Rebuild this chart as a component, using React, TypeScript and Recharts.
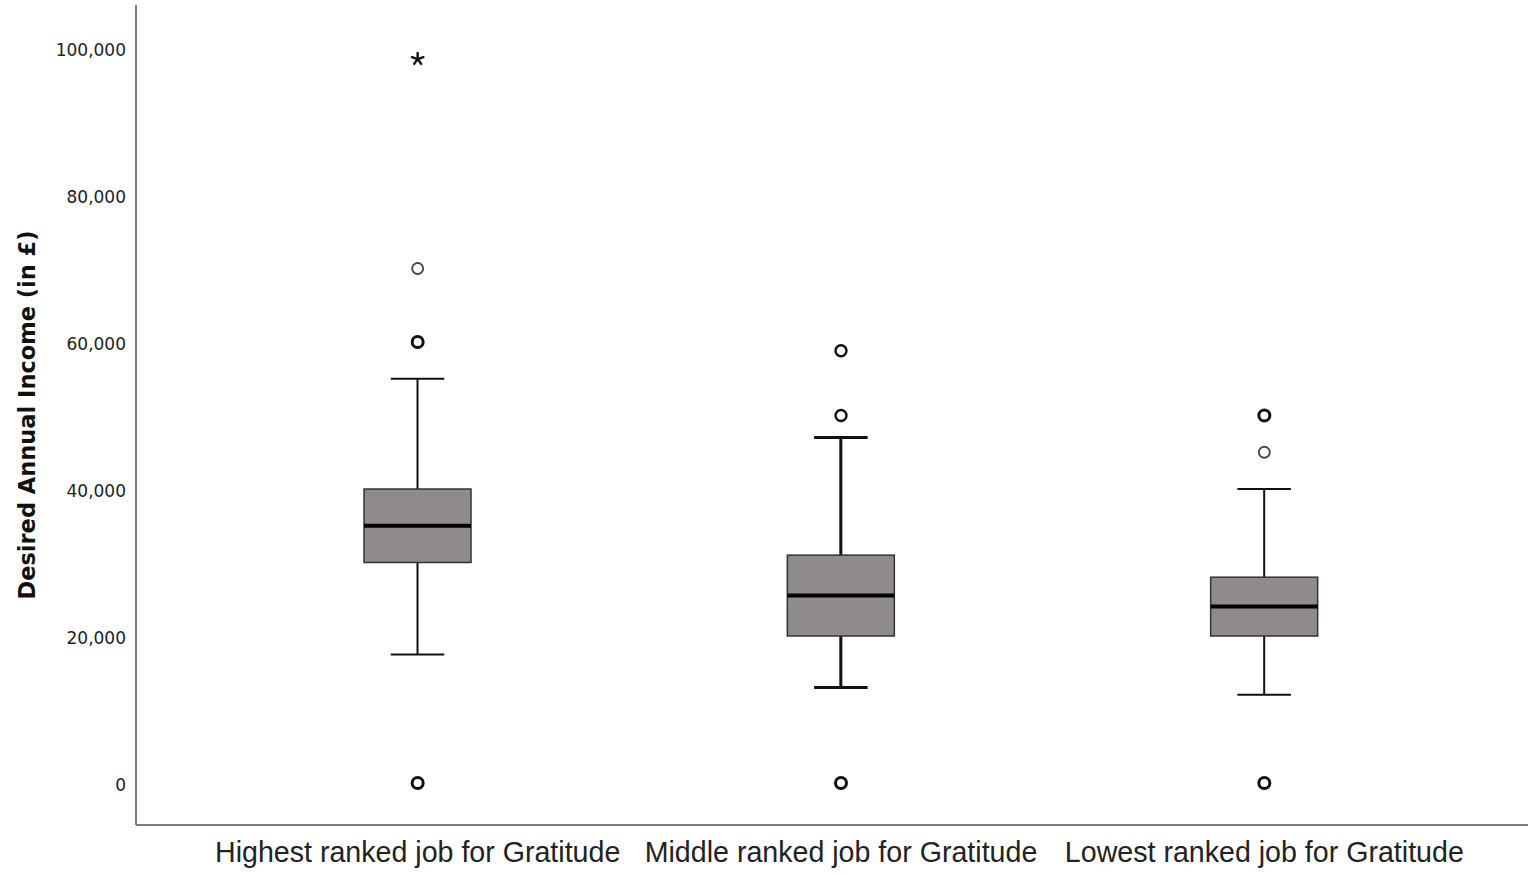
import React from "react";
import {
  ComposedChart, Bar, Scatter, XAxis, YAxis,
} from "recharts";

// Groups (x categories)
const groups = [
  "Highest ranked job for Gratitude",
  "Middle ranked job for Gratitude",
  "Lowest ranked job for Gratitude",
];

// Five-number summaries
const whiskerLow = [17500, 13000, 12000];
const q1 = [30000, 20000, 20000];
const median = [35000, 25500, 24000];
const q3 = [40000, 31000, 28000];
const whiskerHigh = [55000, 47000, 40000];

// Outliers: group index, value, kind ("bold" = repeated value, "extreme" = star)
const outlierGroup = [0, 0, 0, 0, 1, 1, 1, 2, 2, 2];
const outlierValue = [98500, 70000, 60000, 0, 58800, 50000, 0, 50000, 45000, 0];
const outlierKind = ["extreme", "thin", "bold", "bold", "normal", "normal", "bold", "bold", "thin", "bold"];

const yTicks = [0, 20000, 40000, 60000, 80000, 100000];

const boxData = groups.map((name, i) => ({
  name,
  box: [q1[i], q3[i]],
  lo: whiskerLow[i],
  med: median[i],
  q1: q1[i],
  q3: q3[i],
  hi: whiskerHigh[i],
  heavy: i === 1,
}));

const outlierData = outlierValue.map((v, i) => ({
  name: groups[outlierGroup[i]],
  value: v,
  kind: outlierKind[i],
}));

function BoxShape(props: any) {
  const { x, y, width, height, payload } = props;
  const toY = (v: number) => y + ((payload.q3 - v) * height) / (payload.q3 - payload.q1);
  const cx = x + width / 2;
  const capHalf = width / 4;
  const sw = payload.heavy ? 3 : 2;
  return (
    <g>
      <line x1={cx} x2={cx} y1={toY(payload.hi)} y2={y} stroke="#111" strokeWidth={sw} />
      <line x1={cx} x2={cx} y1={y + height} y2={toY(payload.lo)} stroke="#111" strokeWidth={sw} />
      <line x1={cx - capHalf} x2={cx + capHalf} y1={toY(payload.hi)} y2={toY(payload.hi)} stroke="#111" strokeWidth={sw} />
      <line x1={cx - capHalf} x2={cx + capHalf} y1={toY(payload.lo)} y2={toY(payload.lo)} stroke="#111" strokeWidth={sw} />
      <rect x={x} y={y} width={width} height={height} fill="#8f8b8b" stroke="#333" strokeWidth={1.5} />
      <line x1={x} x2={x + width} y1={toY(payload.med)} y2={toY(payload.med)} stroke="#000" strokeWidth={4} />
    </g>
  );
}

function OutlierShape(props: any) {
  const { cx, cy, payload } = props;
  if (payload.kind === "extreme") {
    // five-armed asterisk
    const arms = [0, 72, 144, 216, 288].map((deg) => {
      const a = ((deg - 90) * Math.PI) / 180;
      return (
        <line key={deg} x1={cx} y1={cy} x2={cx + 6 * Math.cos(a)} y2={cy + 6 * Math.sin(a)}
          stroke="#111" strokeWidth={2.4} strokeLinecap="round" />
      );
    });
    return <g>{arms}</g>;
  }
  const sw = payload.kind === "bold" ? 3 : payload.kind === "thin" ? 1.8 : 2.4;
  const col = payload.kind === "thin" ? "#444" : "#111";
  return <circle cx={cx} cy={cy} r={5.5} fill="#fff" stroke={col} strokeWidth={sw} />;
}

export default function App() {
  return (
    <div style={{ position: "absolute", left: 0, top: 0, background: "#fff" }}>
      <ComposedChart
        width={1528}
        height={875}
        data={boxData}
        margin={{ top: 5, right: 0, bottom: 0, left: 0 }}
      >
        <XAxis
          dataKey="name"
          type="category"
          allowDuplicatedCategory={false}
          height={50}
          padding={{ left: 70, right: 52 }}
          axisLine={{ stroke: "#555", strokeWidth: 1.5 }}
          tickLine={false}
          tickSize={0}
          tickMargin={17}
          interval={0}
          tick={{ fontSize: 28.6, fill: "#222", fontFamily: "Liberation Sans" }}
        />
        <YAxis
          type="number"
          domain={[-5714, 105850]}
          ticks={yTicks}
          allowDataOverflow
          width={136}
          axisLine={{ stroke: "#555", strokeWidth: 1.5 }}
          tickLine={false}
          tickSize={0}
          tickMargin={10}
          tickFormatter={(v: number) => v.toLocaleString("en-US")}
          tick={{ fontSize: 17, fill: "#222", fontFamily: "DejaVu Sans", dy: 2 }}
          label={{
            value: "Desired Annual Income (in £)",
            angle: -90,
            position: "insideLeft",
            offset: 27,
            style: { textAnchor: "middle", fontSize: 22.5, fontWeight: "bold", fontFamily: "DejaVu Sans", fill: "#111" },
          }}
        />
        <Bar dataKey="box" barSize={107} shape={<BoxShape />} isAnimationActive={false} />
        <Scatter data={outlierData} dataKey="value" shape={<OutlierShape />} isAnimationActive={false} />
      </ComposedChart>
    </div>
  );
}
